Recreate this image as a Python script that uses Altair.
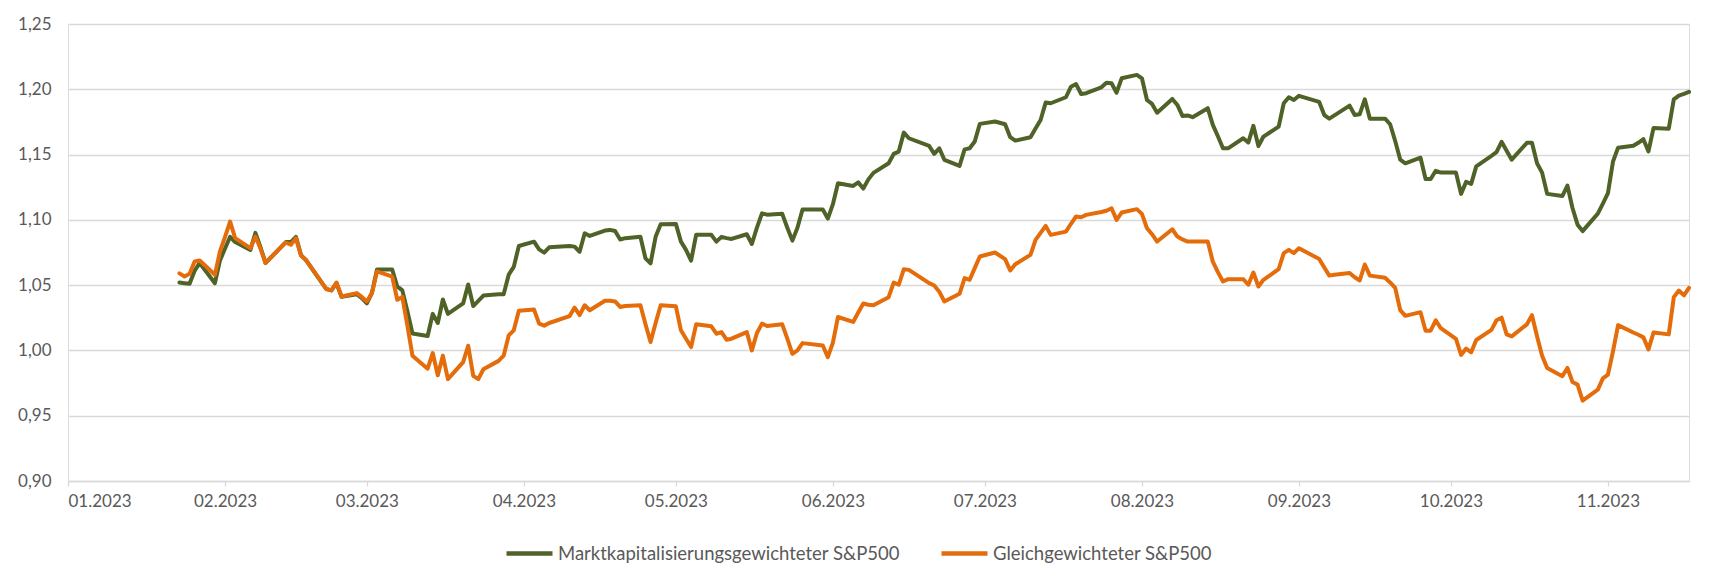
import altair as alt
import pandas as pd

# ---- data ----
green_name = "Marktkapitalisierungsgewichteter S&P500"
orange_name = "Gleichgewichteter S&P500"

green_dates = [
    "01-23","01-24","01-25","01-26","01-27","01-30","01-31","02-01","02-02","02-03",
    "02-06","02-07","02-08","02-09","02-10","02-13","02-14","02-15","02-16","02-17",
    "02-21","02-22","02-23","02-24","02-27","02-28","03-01","03-02","03-03","03-06",
    "03-07","03-08","03-09","03-10","03-13","03-14","03-15","03-16","03-17","03-20",
    "03-21","03-22","03-23","03-24","03-27","03-28","03-29","03-30","03-31","04-03",
    "04-04","04-05","04-06","04-10","04-11","04-12","04-13","04-14","04-17","04-18",
    "04-19","04-20","04-21","04-24","04-25","04-26","04-27","04-28","05-01","05-02",
    "05-03","05-04","05-05","05-08","05-09","05-10","05-11","05-12","05-15","05-16",
    "05-17","05-18","05-19","05-22","05-23","05-24","05-25","05-26","05-30","05-31",
    "06-01","06-02","06-05","06-06","06-07","06-08","06-09","06-12","06-13","06-14",
    "06-15","06-16","06-20","06-21","06-22","06-23","06-26","06-27","06-28","06-29",
    "06-30","07-03","07-05","07-06","07-07","07-10","07-11","07-12","07-13","07-14",
    "07-17","07-18","07-19","07-20","07-21","07-24","07-25","07-26","07-27","07-28",
    "07-31","08-01","08-02","08-03","08-04","08-07","08-08","08-09","08-10","08-11",
    "08-14","08-15","08-16","08-17","08-18","08-21","08-22","08-23","08-24","08-25",
    "08-28","08-29","08-30","08-31","09-01","09-05","09-06","09-07","09-08","09-11",
    "09-12","09-13","09-14","09-15","09-18","09-19","09-20","09-21","09-22","09-25",
    "09-26","09-27","09-28","09-29","10-02","10-03","10-04","10-05","10-06","10-09",
    "10-10","10-11","10-12","10-13","10-16","10-17","10-18","10-19","10-20","10-23",
    "10-24","10-25","10-26","10-27","10-30","10-31","11-01","11-02","11-03","11-06",
    "11-07","11-08","11-09","11-10","11-13","11-14","11-15","11-16","11-17",
]
green_vals = [
    1.052,1.0515,1.051,1.061,1.067,1.0515,1.069,1.078,1.087,1.083,
    1.077,1.090,1.079,1.067,1.071,1.083,1.083,1.087,1.073,1.069,
    1.047,1.046,1.0515,1.041,1.043,1.040,1.036,1.044,1.062,1.062,
    1.049,1.046,1.030,1.013,1.011,1.028,1.021,1.039,1.028,1.036,
    1.0505,1.034,1.038,1.042,1.043,1.043,1.058,1.064,1.080,1.0833,
    1.0774,1.0749,1.079,1.080,1.0795,1.0756,1.0897,1.0877,1.0918,1.0923,
    1.0915,1.085,1.086,1.087,1.0705,1.0667,1.087,1.0967,1.0969,1.0833,
    1.077,1.0687,1.0885,1.0885,1.0833,1.087,1.086,1.0854,1.089,1.0815,
    1.094,1.105,1.104,1.1046,1.094,1.0841,1.094,1.108,1.108,1.101,
    1.112,1.128,1.126,1.1287,1.124,1.131,1.136,1.1434,1.1505,1.1523,
    1.1668,1.1625,1.1566,1.1505,1.1548,1.146,1.1413,1.154,1.1548,1.160,
    1.1735,1.1753,1.1732,1.1633,1.1607,1.1633,1.170,1.1765,1.1898,1.1893,
    1.1939,1.202,1.204,1.1964,1.197,1.2015,1.205,1.2046,1.1974,1.2084,
    1.211,1.2084,1.1918,1.1888,1.1821,1.1926,1.188,1.1796,1.180,1.1786,
    1.1855,1.1727,1.164,1.1548,1.1548,1.1625,1.1592,1.172,1.1566,1.1638,
    1.1714,1.1893,1.1939,1.1918,1.195,1.1903,1.1803,1.1775,1.180,1.1875,
    1.1803,1.1809,1.1923,1.1775,1.1775,1.1732,1.1604,1.1461,1.1433,1.1476,
    1.1313,1.1313,1.1376,1.1362,1.1362,1.1199,1.1291,1.1276,1.141,1.149,
    1.1518,1.1598,1.153,1.1461,1.159,1.159,1.1433,1.1362,1.1199,1.1182,
    1.1262,1.1091,1.0963,1.0914,1.1048,1.1125,1.1205,1.1447,1.1553,1.1567,
    1.159,1.1618,1.1524,1.1704,1.1698,1.1923,1.1952,1.1965,1.198,
]

orange_dates = green_dates
orange_vals = [
    1.059,1.0566,1.0587,1.0681,1.0689,1.0579,1.0758,1.087,1.0987,1.086,
    1.0783,1.0872,1.078,1.0668,1.071,1.0827,1.0809,1.086,1.0725,1.0694,
    1.047,1.046,1.052,1.0413,1.0439,1.041,1.0375,1.0439,1.0605,1.0566,
    1.0388,1.041,1.019,0.996,0.986,0.998,0.981,0.996,0.978,0.991,
    1.0036,0.9805,0.978,0.9856,0.992,0.996,1.0115,1.0154,1.0303,1.0313,
    1.0205,1.019,1.021,1.0262,1.0328,1.027,1.0346,1.0308,1.038,1.038,
    1.0375,1.0333,1.034,1.0346,1.020,1.0064,1.021,1.0346,1.0338,1.0154,
    1.009,1.0026,1.020,1.0185,1.0128,1.014,1.0082,1.009,1.014,1.000,
    1.0133,1.0205,1.0187,1.020,1.009,0.9974,1.000,1.0056,1.0038,0.9949,
    1.006,1.0256,1.0218,1.029,1.0359,1.035,1.0346,1.0408,1.052,1.0503,
    1.0622,1.0617,1.0515,1.0497,1.045,1.0375,1.0434,1.0554,1.0541,1.063,
    1.0719,1.075,1.0699,1.0612,1.066,1.0732,1.0847,1.090,1.0954,1.0885,
    1.091,1.097,1.1026,1.102,1.1038,1.106,1.107,1.1089,1.100,1.1056,
    1.1082,1.1046,1.0936,1.089,1.0834,1.0928,1.0872,1.085,1.0834,1.0834,
    1.0834,1.068,1.060,1.0528,1.0546,1.0546,1.0503,1.0597,1.049,1.0541,
    1.0622,1.0745,1.077,1.0745,1.0783,1.070,1.0635,1.0573,1.058,1.0593,
    1.056,1.0536,1.0658,1.0573,1.0556,1.0521,1.0479,1.0308,1.0265,1.0293,
    1.0151,1.0151,1.0231,1.017,1.0088,0.9966,1.0014,0.9986,1.008,1.0157,
    1.0231,1.0251,1.0123,1.0108,1.020,1.027,1.0108,0.996,0.9866,0.9803,
    0.9866,0.9758,0.9738,0.9615,0.970,0.9786,0.9815,0.9994,1.0194,1.0137,
    1.012,1.010,1.0008,1.0137,1.0123,1.0408,1.0459,1.0422,1.0479,
]

tick_months = ["01","02","03","04","05","06","07","08","09","10","11"]
y_ticks = [0.90, 0.95, 1.00, 1.05, 1.10, 1.15, 1.20, 1.25]
x_start, x_end = "2023-01-01", "2023-11-17"

# ---- build tables ----
def ms(s):
    return int(pd.Timestamp(s, tz="UTC").timestamp() * 1000)

green_df = pd.DataFrame({"date": ["2023-" + d for d in green_dates], "value": green_vals,
                         "series": green_name})
orange_df = pd.DataFrame({"date": ["2023-" + d for d in orange_dates], "value": orange_vals,
                          "series": orange_name})

tick_values = [ms("2023-" + m + "-01") for m in tick_months]

GREEN = "#4F6228"
ORANGE = "#E46C0A"
TEXT = "#595959"
GRID = "#D9D9D9"

x_enc = alt.X(
    "date:T",
    scale=alt.Scale(type="utc", domain=[ms(x_start), ms(x_end)], nice=False),
    axis=alt.Axis(
        title=None, values=tick_values, format="%m.%Y", grid=False,
        domain=True, domainColor=GRID, domainWidth=1.3,
        ticks=True, tickColor=GRID, tickSize=5, tickWidth=1.3,
        labelPadding=7, labelColor=TEXT, labelFontSize=17, labelFont="Lato",
    ),
)
y_enc = alt.Y(
    "value:Q",
    scale=alt.Scale(domain=[0.90, 1.25], nice=False, zero=False),
    axis=alt.Axis(
        title=None, values=y_ticks, domain=False, ticks=False, grid=True,
        gridColor=GRID, gridWidth=1.3,
        labelExpr="replace(format(datum.value, '.2f'), '.', ',')",
        labelPadding=17, labelColor=TEXT, labelFontSize=17, labelFont="Lato",
    ),
)
color_enc = alt.Color(
    "series:N",
    scale=alt.Scale(domain=[green_name, orange_name], range=[GREEN, ORANGE]),
    legend=alt.Legend(
        title=None, orient="none", legendX=436, legendY=504, direction="horizontal",
        symbolType="stroke", symbolSize=2116, symbolStrokeWidth=4.5,
        labelFontSize=18.5, labelFont="Lato", labelColor=TEXT, labelOffset=3,
        labelLimit=600, columnPadding=32, columns=2,
    ),
)

green_line = alt.Chart(green_df).mark_line(strokeWidth=4, strokeJoin="round", strokeCap="round").encode(
    x=x_enc, y=y_enc, color=color_enc
)
orange_line = alt.Chart(orange_df).mark_line(strokeWidth=4, strokeJoin="round", strokeCap="round").encode(
    x=x_enc, y=y_enc, color=color_enc
)

chart = alt.layer(green_line, orange_line).properties(
    width=1621, height=457,
    padding={"left": 60, "top": 16, "right": 10, "bottom": 90},
    autosize=alt.AutoSizeParams(type="none"),
).configure_view(strokeWidth=0).configure(font="Lato")

chart.save("out.html", embed_options={"renderer": "svg", "actions": False})
